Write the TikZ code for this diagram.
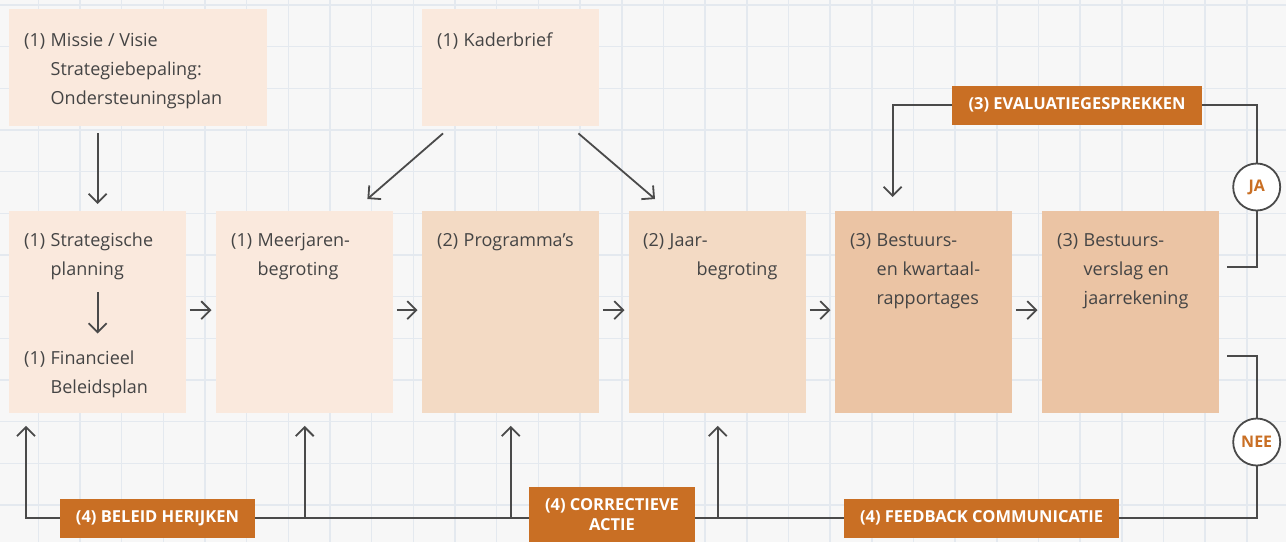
\documentclass[tikz,border=0pt]{standalone}
\usepackage{fontspec}
\setmainfont{Open Sans}
\usetikzlibrary{arrows.meta,calc}
\definecolor{bgc}{HTML}{F7F7F7}
\definecolor{gridc}{HTML}{E4E9EF}
\definecolor{cone}{HTML}{FAE9DD}
\definecolor{ctwo}{HTML}{F3DAC4}
\definecolor{cthree}{HTML}{EBC4A4}
\definecolor{labc}{HTML}{C96F24}
\definecolor{txtc}{HTML}{444444}
\definecolor{lnc}{HTML}{4A4A4A}
\newcommand\hangtxt[2]{\makebox[26.5pt][l]{#1}\begin{tabular}[t]{@{}l@{}}#2\end{tabular}}
\begin{document}
\begin{tikzpicture}[x=1pt,y=-1pt,
  boxn/.style={inner sep=0, minimum width=177, minimum height=202, anchor=north west},
  txtn/.style={inner sep=0, text=txtc, font=\fontsize{18}{29}\selectfont, anchor=base west},
  lnk/.style={draw=lnc, line width=1.8pt},
  conn/.style={lnk, -{Straight Barb[length=9pt,width=18pt]}},
  labn/.style={fill=labc, text=white, font=\fontsize{16.5}{20}\selectfont\bfseries, inner sep=0, minimum height=39},
  circn/.style={circle, draw=lnc, line width=1.8pt, fill=white, minimum size=47, inner sep=0, text=labc, font=\fontsize{16}{18}\selectfont\bfseries}
]
\useasboundingbox (0,0) rectangle (1286,542);
\fill[bgc] (0,0) rectangle (1286,542);
\foreach \i in {0,...,31} \draw[gridc, line width=1.5pt] ({-3.3+41.67*\i},0) -- ({-3.3+41.67*\i},542);
\foreach \j in {0,...,13} \draw[gridc, line width=1.5pt] (0,{5+41.67*\j}) -- (1286,{5+41.67*\j});

% boxes
\node[boxn, fill=cone, minimum width=258, minimum height=117] (missie) at (9,9) {};
\node[boxn, fill=cone, minimum height=117] (kader) at (422,9) {};
\node[boxn, fill=cone] (b1) at (9,211) {};
\node[boxn, fill=cone] (b2) at (216,211) {};
\node[boxn, fill=ctwo] (b3) at (422,211) {};
\node[boxn, fill=ctwo] (b4) at (629,211) {};
\node[boxn, fill=cthree] (b5) at (835,211) {};
\node[boxn, fill=cthree] (b6) at (1042,211) {};

% texts
\node[txtn] (missieT) at (24,46) {\hangtxt{(1)}{Missie / Visie\\Strategiebepaling:\\Ondersteuningsplan}};
\node[txtn] (kaderT) at (437,46) {\hangtxt{(1)}{Kaderbrief}};
\node[txtn] (stratT) at (24,246) {\hangtxt{(1)}{Strategische\\planning}};
\node[txtn] (finT) at (24,364) {\hangtxt{(1)}{Financieel\\Beleidsplan}};
\node[txtn] (b2T) at (231,246) {\hangtxt{(1)}{Meerjaren-\\begroting}};
\node[txtn] (b3T) at (437,246) {\hangtxt{(2)}{Programma’s}};
\node[txtn] (b4T) at (643,246) {\hangtxt{(2)}{Jaar-\\\hspace*{27pt}begroting}};
\node[txtn] (b5T) at (850,246) {\hangtxt{(3)}{Bestuurs-\\en kwartaal-\\rapportages}};
\node[txtn] (b6T) at (1057,246) {\hangtxt{(3)}{Bestuurs-\\verslag en\\jaarrekening}};

% labels and circles
\node[labn, minimum width=195] (bel) at (157.5,518) {(4) BELEID HERIJKEN};
\node[labn, minimum width=166, minimum height=55, align=center] (corr) at (612,514.5) {(4) CORRECTIEVE\\ACTIE};
\node[labn, minimum width=275] (fb) at (981.5,518) {(4) FEEDBACK COMMUNICATIE};
\node[labn, minimum width=250] (eval) at (1077,105) {(3) EVALUATIEGESPREKKEN};
\node[circn] (ja) at (1256.7,187) {JA};
\node[circn] (nee) at (1256.7,442) {NEE};

% arrows
\draw[conn] ([yshift=-7pt]missie.south -| b1.north) -- ([yshift=7pt]b1.north);
\draw[conn] ([yshift=-8pt]stratT.south -| b1.center) -- ([yshift=10pt]finT.north -| b1.center);
\draw[conn] ([shift={(21pt,-7pt)}]kader.south west) -- ([shift={(-26pt,12pt)}]b2.north east);
\draw[conn] ([shift={(-21pt,-7pt)}]kader.south east) -- ([shift={(26pt,12pt)}]b4.north west);
\foreach \a/\b in {b1/b2,b2/b3,b3/b4,b4/b5,b5/b6}
  \draw[conn] ([shift={(3.5pt,2pt)}]\a.east) -- ([shift={(-4.5pt,2pt)}]\b.west);

% top loop
\draw[lnk] ([shift={(8pt,-56pt)}]b6.north east) -| (ja.south);
\draw[lnk] (ja.north) |- (eval.east);
\draw[conn] (eval.west) -| ([shift={(57.7pt,14pt)}]b5.north west);

% bottom loop
\draw[lnk] ([shift={(8pt,-145pt)}]b6.north east) -| (nee.north);
\draw[lnk] (nee.south) |- (fb.east);
\draw[lnk] (fb.west) -- (fb.west -| corr.east);
\draw[lnk] (fb.west -| corr.west) -- (bel.east);
\draw[conn] (bel.west) -| ([shift={(17pt,-12.5pt)}]b1.south west);
\draw[conn] (b2.south |- bel.east) -- ([yshift=-12.5pt]b2.south);
\draw[conn] (b3.south |- bel.east) -- ([yshift=-12.5pt]b3.south);
\draw[conn] (b4.south |- bel.east) -- ([yshift=-12.5pt]b4.south);
\end{tikzpicture}
\end{document}
